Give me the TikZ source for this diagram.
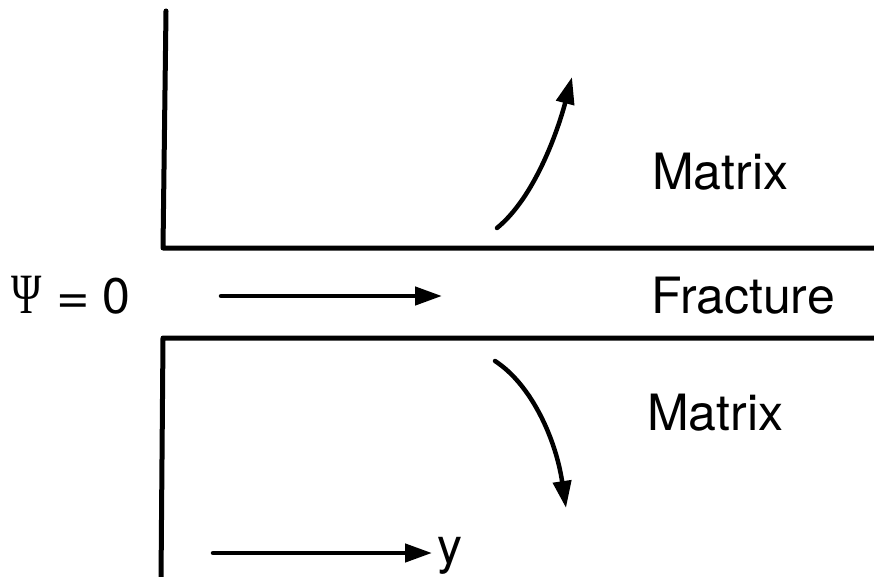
\documentclass[tikz,border=0pt]{standalone}
\usepackage{fontspec}
\setmainfont{TeX Gyre Heros}
\newfontfamily\grkserif{Liberation Serif}
\usetikzlibrary{arrows.meta}
\begin{document}
\begin{tikzpicture}[x=1pt,y=-1pt,
  wall/.style={line width=5pt,line join=round,line cap=round},
  flow/.style={line width=4.5pt,line cap=round,-{Triangle[length=27pt,width=18pt]}},
  lbl/.style={anchor=base west,inner sep=0pt,font=\fontsize{50}{60}\selectfont}]
\useasboundingbox (0,0) rectangle (874,577);
% walls
\coordinate (tl) at (166,11);
\coordinate (tc) at (163,248);
\coordinate (tr) at (876,248);
\coordinate (bl) at (161,580);
\coordinate (bc) at (163,338);
\coordinate (br) at (876,338);
\draw[wall] (tl) -- (tc) -- (tr);
\draw[wall] (br) -- (bc) -- (bl);
% labels
\node[lbl] (m1) at (652,190) {Matrix};
\node[lbl] (fr) at (651,313) {Fracture};
\node[lbl] (m2) at (647,430) {Matrix};
\node[lbl] (psi) at (11,313) {\makebox[45pt][l]{\grkserif\fontsize{57}{60}\selectfont\scalebox{0.72}[1]{Ψ}}\makebox[46pt][l]{\scalebox{1.15}[1]{=}}0};
\node[lbl] (ylab) at (437,563) {y};
% arrows
\coordinate (a1s) at (497,228);
\coordinate (a1e) at (572,77);
\draw[flow] (a1s) .. controls (535,197) and (558,130) .. (a1e);
\coordinate (a2s) at (495,361);
\coordinate (a2e) at (566,508);
\draw[flow] (a2s) .. controls (532,385) and (556,440) .. (a2e);
\coordinate (a3s) at (221,296);
\coordinate (a3e) at (442,296);
\draw[flow] (a3s) -- (a3e);
\coordinate (a4s) at (213,553);
\coordinate (a4e) at (432,553);
\draw[flow] (a4s) -- (a4e);
\end{tikzpicture}
\end{document}
